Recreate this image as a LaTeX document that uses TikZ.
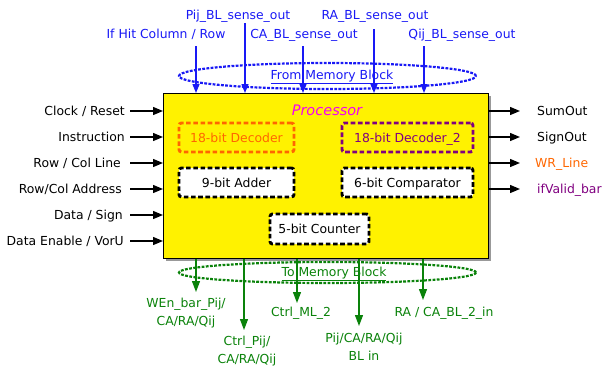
\documentclass[tikz,border=0pt]{standalone}
\usepackage{fontspec}
\setmainfont{DejaVu Sans}
\usetikzlibrary{arrows.meta,shapes.geometric,shadows}
\definecolor{sigblue}{RGB}{25,25,245}
\definecolor{siggreen}{RGB}{10,130,10}
\definecolor{decorange}{RGB}{255,102,0}
\definecolor{decpurple}{RGB}{128,0,128}
\definecolor{procmagenta}{RGB}{245,0,245}
\begin{document}
\begin{tikzpicture}[x=1pt,y=-1pt,
  font=\fontsize{12.4}{18}\selectfont,
  lbl/.style={inner sep=0pt,text height=9pt,text depth=0pt},
  mlbl/.style={inner sep=0pt,align=center,anchor=north,text=siggreen},
  unit/.style={draw,fill=white,line width=2.9pt,dash pattern=on 4.6pt off 2.6pt,
    rounded corners=2.5pt,inner sep=0pt,text height=9pt,text depth=0pt,minimum height=29pt},
  memring/.style={ellipse,inner sep=0pt,line width=2.2pt,dash pattern=on 2.8pt off 1.4pt,minimum width=297pt},
  inarr/.style={line width=1.3pt,-{Triangle[length=10pt,width=8pt]}},
  uparr/.style={sigblue,line width=1.3pt,-{Triangle[length=9pt,width=7pt]}},
  dnarr/.style={siggreen,line width=1.3pt,-{Triangle[length=11pt,width=8pt]}},
]
\useasboundingbox (0,0) rectangle (603,370);

% memory interface rings
\node[memring,draw=sigblue,minimum height=26pt] (fromring) at (327.5,76) {};
\node[memring,draw=siggreen,minimum height=21pt] (toring) at (327.5,272.5) {};
\node[lbl,text=sigblue] (fromlbl) at (332,75) {\underline{From Memory Block}};
\node[lbl,text=siggreen] (tolbl) at (334,272) {\underline{To Memory Block}};

% processor body
\node[draw,line width=1.3pt,fill=yellow,inner sep=0pt,minimum width=325pt,minimum height=165pt,
  anchor=north west,drop shadow={shadow xshift=2pt,shadow yshift=-2pt,opacity=1,fill=black!40}]
  (proc) at (163,93) {};
\node[lbl,text=procmagenta,font=\fontsize{14.5}{16}\selectfont\itshape] (proclbl) at (327,111) {Processor};

% internal units
\node[unit,draw=decorange,fill=yellow,text=decorange,minimum width=115pt] (dec1) at (236.5,137.5) {18-bit Decoder};
\node[unit,draw=decpurple,fill=yellow,text=decpurple,minimum width=131pt] (dec2) at (407.5,137.5) {18-bit Decoder\_2};
\node[unit,minimum width=115pt] (adder) at (236.5,182.5) {9-bit Adder};
\node[unit,minimum width=131pt] (comp) at (407.5,182.5) {6-bit Comparator};
\node[unit,minimum width=99pt,minimum height=30pt] (cnt) at (319.5,229) {5-bit Counter};

% inputs from memory block
\node[lbl,text=sigblue] (hit) at (166,34) {If Hit Column / Row};
\node[lbl,text=sigblue] (pij) at (238,14.5) {Pij\_BL\_sense\_out};
\node[lbl,text=sigblue] (ca) at (304,34) {CA\_BL\_sense\_out};
\node[lbl,text=sigblue] (ra) at (375,14.5) {RA\_BL\_sense\_out};
\node[lbl,text=sigblue] (qij) at (462,34) {Qij\_BL\_sense\_out};
\coordinate (hitfoot) at (196,46);
\coordinate (pijfoot) at (245,23);
\coordinate (cafoot) at (303,46);
\coordinate (rafoot) at (374,29);
\coordinate (qijfoot) at (424,46);
\foreach \f in {hitfoot,pijfoot,cafoot,rafoot,qijfoot}
  \draw[uparr] (\f) -- (\f |- proc.north);

% control inputs
\coordinate (instart) at (130,0);
\node[lbl,anchor=east] (clk) at (125,111) {Clock / Reset};
\node[lbl,anchor=east] (ins) at (125,137) {Instruction};
\node[lbl,anchor=east] (rcl) at (121,163) {Row / Col Line};
\node[lbl,anchor=east] (rca) at (122,189) {Row/Col Address};
\node[lbl,anchor=east] (ds) at (123,215) {Data / Sign};
\node[lbl,anchor=east] (den) at (124,241) {Data Enable / VorU};
\foreach \s in {clk,ins,rcl,rca,ds,den}
  \draw[inarr] (\s.east -| instart) -- (\s.east -| proc.west);

% outputs
\coordinate (outend) at (520,0);
\node[lbl,anchor=west] (sum) at (537,111) {SumOut};
\node[lbl,anchor=west] (sgn) at (537,137) {SignOut};
\node[lbl,anchor=west,text=decorange] (wr) at (535,163) {WR\_Line};
\node[lbl,anchor=west,text=decpurple] (valid) at (537,189) {ifValid\_bar};
\foreach \s in {sum,sgn,wr,valid}
  \draw[inarr] (\s.west -| proc.east) -- (\s.west -| outend);

% outputs to memory block
\coordinate (wentip) at (196,292);
\coordinate (ctrltip) at (244,330);
\coordinate (mltip) at (297,303);
\coordinate (bltip) at (359,326);
\coordinate (ratip) at (423,300);
\foreach \t in {wentip,ctrltip,mltip,bltip,ratip}
  \draw[dnarr] (\t |- proc.south) -- (\t);
\node[mlbl] (wenlbl) at (186,298) {WEn\_bar\_Pij/\\CA/RA/Qij};
\node[mlbl] (ctrllbl) at (247,336) {Ctrl\_Pij/\\CA/RA/Qij};
\node[mlbl] (mllbl) at (301,307) {Ctrl\_ML\_2};
\node[mlbl] (bllbl) at (364,332.5) {Pij/CA/RA/Qij\\BL in};
\node[mlbl] (ralbl) at (444,307) {RA / CA\_BL\_2\_in};
\end{tikzpicture}
\end{document}
